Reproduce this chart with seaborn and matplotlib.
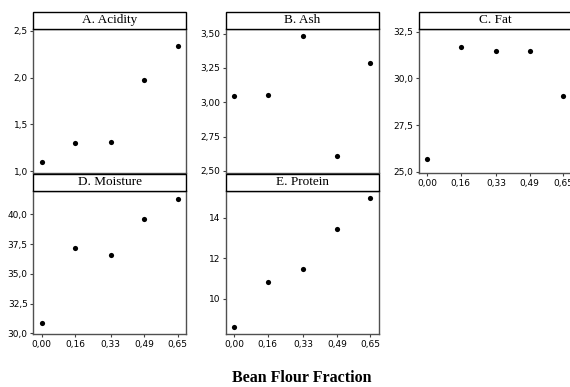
import matplotlib
matplotlib.use("Agg")
import matplotlib.pyplot as plt
from matplotlib.patches import Rectangle
from matplotlib.ticker import FuncFormatter
import seaborn as sns
import pandas as pd

# fração de farinha de feijão (eixo x)
fracao = [0.00, 0.16, 0.33, 0.49, 0.65]

acidez = [1.10, 1.30, 1.31, 1.97, 2.34]
cinzas = [3.046, 3.053, 3.483, 2.609, 3.284]
gordura = [25.66, 31.68, 31.45, 31.45, 29.07]
umidade = [30.89, 37.17, 36.60, 39.60, 41.30]
proteina = [8.62, 10.86, 11.50, 13.47, 14.97]

titulos = ["A. Acidity", "B. Ash", "C. Fat", "D. Moisture", "E. Protein"]
valores = [acidez, cinzas, gordura, umidade, proteina]

sns.set_style("white")
plt.rcParams["font.family"] = ["DejaVu Sans"]
plt.rcParams["text.color"] = "black"
plt.rcParams["xtick.color"] = "black"
plt.rcParams["ytick.color"] = "black"

W, H = 570, 387
fig = plt.figure(figsize=(W / 100, H / 100), dpi=100)

# posição dos painéis em pixels: (esquerda, topo, base)
lefts = [33.3, 226.0, 418.7]
largura = 152.7
linhas = [(29, 173), (191, 334)]
faixa = 17.5

ylims = [(0.979, 2.52), (2.485, 3.534), (24.93, 32.64), (29.94, 41.96), (8.27, 15.33)]
yticks = [[1.0, 1.5, 2.0, 2.5], [2.5, 2.75, 3.0, 3.25, 3.5], [25, 27.5, 30, 32.5],
          [30, 32.5, 35, 37.5, 40], [10, 12, 14]]
ydec = [1, 2, 1, 1, 0]

for i, (titulo, y) in enumerate(zip(titulos, valores)):
    col = i % 3
    lin = i // 3
    topo, base = linhas[lin]
    ax = fig.add_axes([lefts[col] / W, 1 - base / H, largura / W, (base - topo) / H])
    df = pd.DataFrame({"x": fracao, "y": y})
    sns.scatterplot(data=df, x="x", y="y", ax=ax, color="black", s=14,
                    edgecolor="black", linewidth=0)
    ax.set_xlim(-0.04, 0.69)
    ax.set_ylim(*ylims[i])
    ax.set_yticks(yticks[i])
    d = ydec[i]
    ax.yaxis.set_major_formatter(FuncFormatter(lambda v, p, d=d: f"{v:.{d}f}".replace(".", ",")))
    ax.set_xticks(fracao)
    ax.xaxis.set_major_formatter(FuncFormatter(lambda v, p: f"{v:.2f}".replace(".", ",")))
    ax.set_xlabel("")
    ax.set_ylabel("")
    for s in ax.spines.values():
        s.set_color("#505050")
        s.set_linewidth(1.0)
    ax.tick_params(axis="both", which="both", direction="out", length=2.5, width=0.8,
                   color="#404040", labelsize=6.5, labelcolor="black", pad=1.5,
                   left=True, bottom=True)
    # painéis de cima sem rótulos no eixo x, exceto o C
    if lin == 0 and col < 2:
        ax.tick_params(axis="x", bottom=False, labelbottom=False)

    # faixa do título
    h = faixa / (base - topo)
    ax.add_patch(Rectangle((0, 1), 1, h, transform=ax.transAxes, facecolor="white",
                           edgecolor="black", linewidth=1.0, clip_on=False, zorder=5))
    ax.text(0.5, 1 + h / 2, titulo, transform=ax.transAxes, ha="center", va="center",
            fontsize=9.5, family="Liberation Serif", color="black", zorder=6)

fig.text(302 / W, 1 - 378 / H, "Bean Flour Fraction", ha="center", va="center",
         fontsize=11.5, fontweight="bold", family="Liberation Serif", color="black")

fig.savefig("out.png", dpi=100)
